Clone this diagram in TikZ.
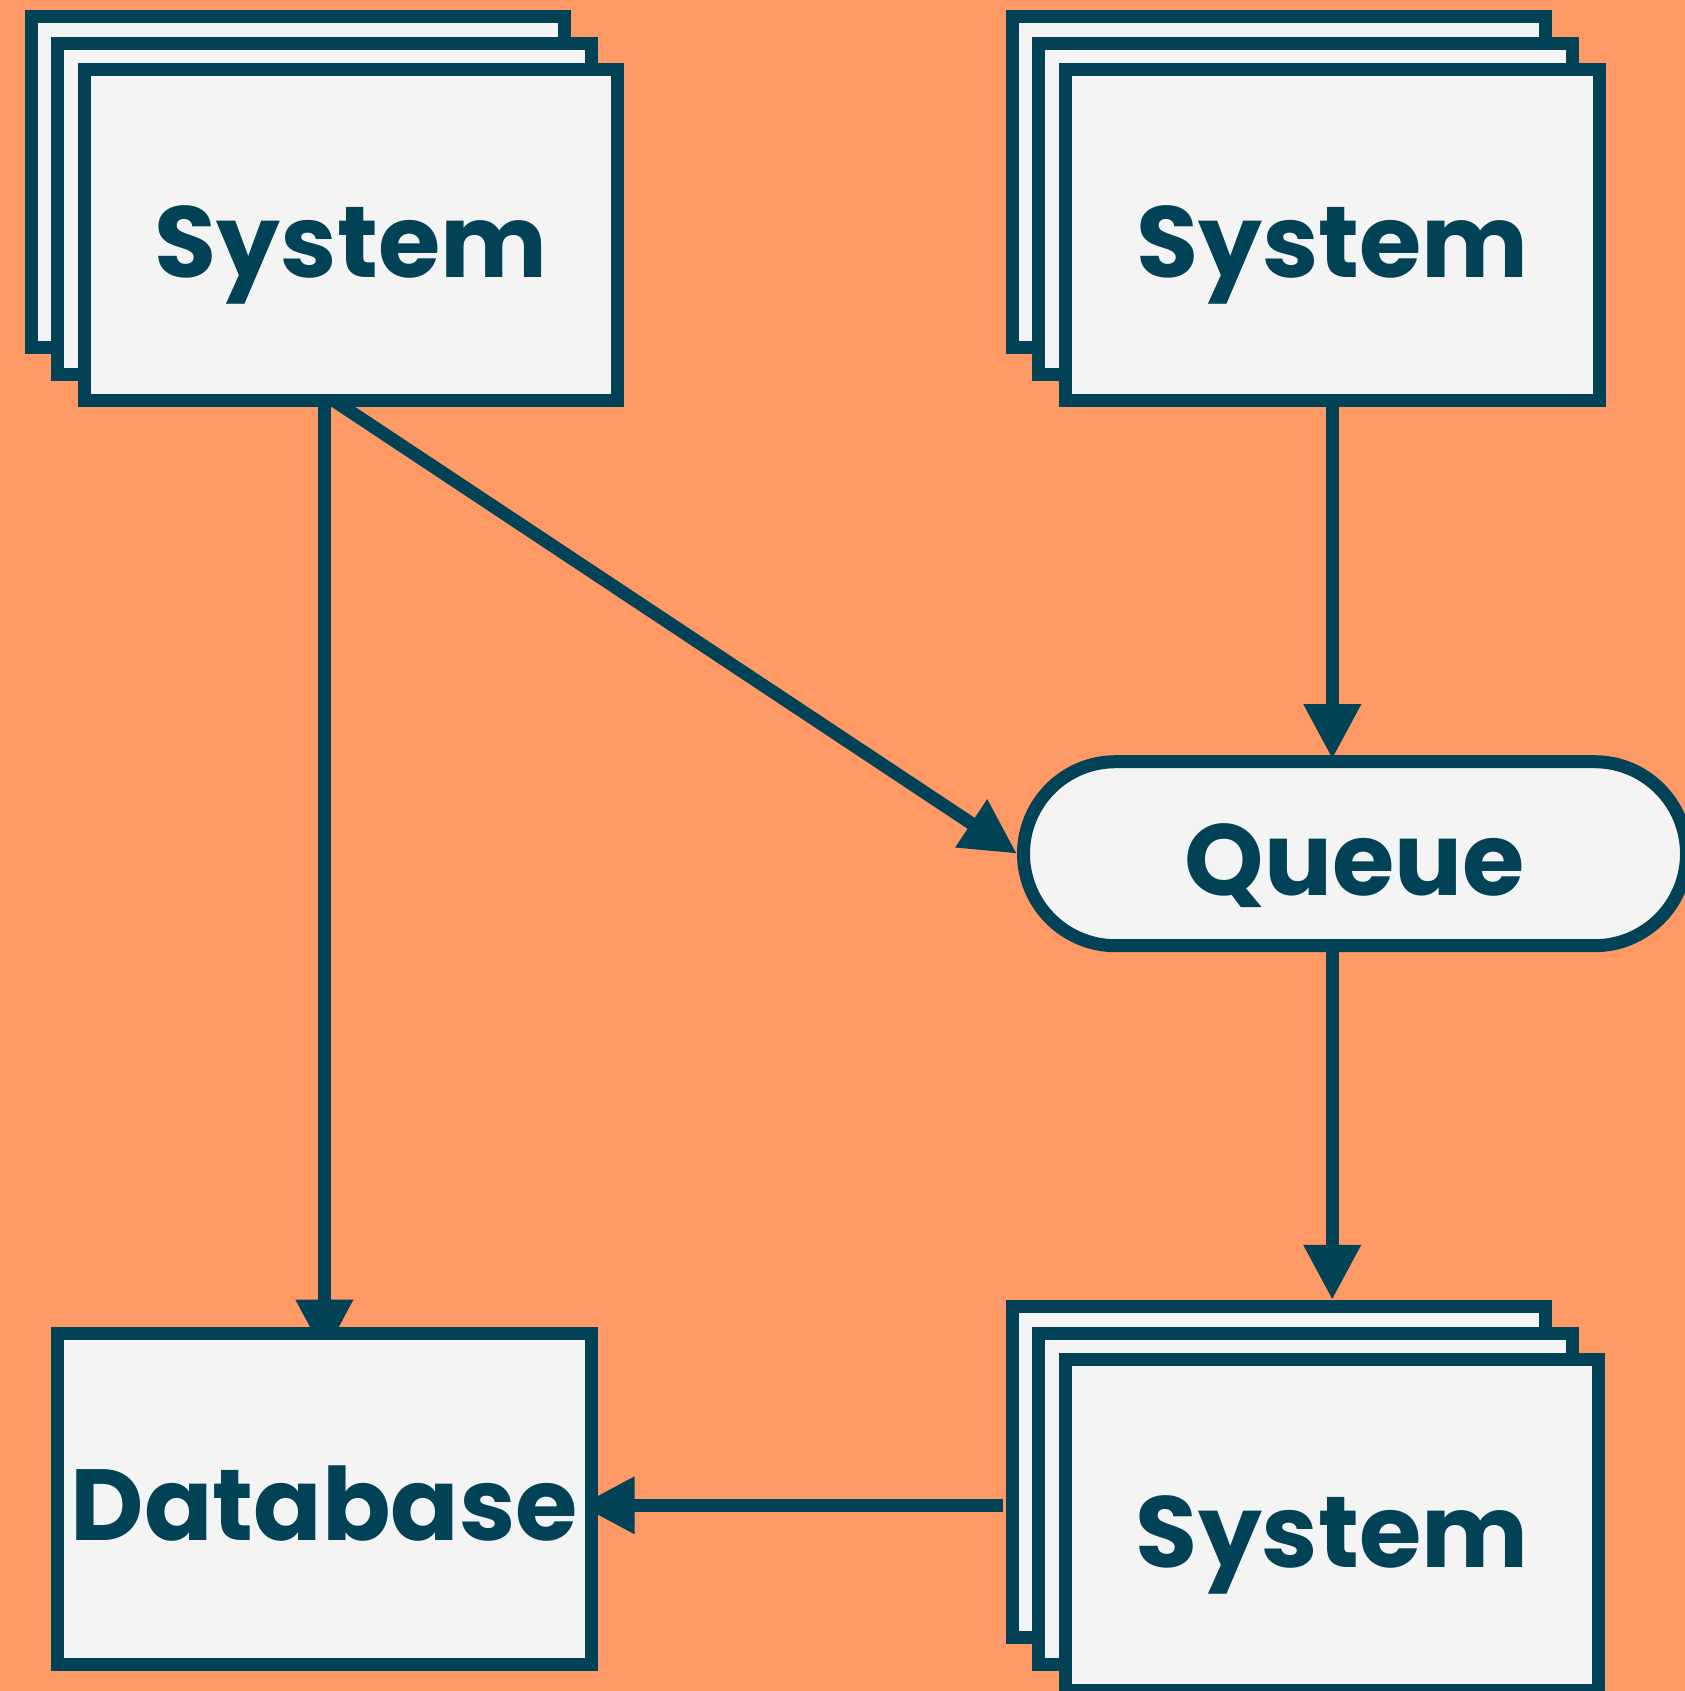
\documentclass[tikz,border=0pt]{standalone}
\usepackage{fontspec}
\setmainfont{Poppins}
\usetikzlibrary{arrows.meta,shadows}
\definecolor{creamsicle}{RGB}{255,153,102}
\definecolor{ink}{RGB}{1,66,86}
\definecolor{paper}{RGB}{244,244,244}
\pgfdeclarelayer{paperlayer}
\pgfdeclarelayer{edgelayer}
\pgfsetlayers{paperlayer,edgelayer,main}
\tikzset{
  label font/.style={font=\fontsize{101pt}{101pt}\selectfont\bfseries, text=ink,
    text height=84pt, text depth=0pt},
  box/.style={label font, draw=ink, fill=paper, line width=13pt, inner sep=0pt,
    minimum width=533.4pt, minimum height=331pt},
  stack/.style={box,
    general shadow={shadow xshift=-53.4pt, shadow yshift=53.4pt,
      draw=ink, fill=paper, line width=13pt},
    general shadow={shadow xshift=-26.7pt, shadow yshift=26.7pt,
      draw=ink, fill=paper, line width=13pt}},
  pipe/.style={label font, draw=ink, fill=paper, line width=13pt, inner sep=0pt,
    rounded corners=92pt, minimum width=663pt, minimum height=184pt},
  flow/.style={draw=ink, line width=13pt, -{Triangle[length=55pt,width=54pt]}}
}
\begin{document}
\begin{tikzpicture}[x=1pt,y=1pt]
      \useasboundingbox (0,0) rectangle (1685,-1691);
      \begin{pgfonlayer}{paperlayer}
        \fill[creamsicle] (0,0) rectangle (1685,-1691);
      \end{pgfonlayer}
      \node[stack] (sysA) at (351.1,-235.3) {System};
      \node[stack] (sysB) at (1332.3,-235.3) {System};
      \node[stack] (sysC) at (1332.2,-1525.3) {System};
      \node[box] (db) at (324.4,-1498.7) {Database};
      \node[pipe] (queue) at (1355,-853.7) {Queue};
      \coordinate (fork) at (sysA.south -| db.north);
      \coordinate (tail) at ([shift={(-56pt,20pt)}]sysC.west);
      \begin{pgfonlayer}{edgelayer}
        \draw[flow, shorten >=-28pt] ([yshift=13pt]fork) -- (db.north);
        \draw[flow] ([yshift=13pt]fork) -- (queue.west);
        \draw[flow, shorten >=-4pt] (sysB.south) -- (sysB.south |- queue.north);
        \draw[flow, shorten >=53.4pt] (sysC.north |- queue.south) -- (sysC.north);
        \draw[flow, shorten >=-18pt] (tail) -- (tail -| db.east);
      \end{pgfonlayer}
    \end{tikzpicture}
\end{document}
